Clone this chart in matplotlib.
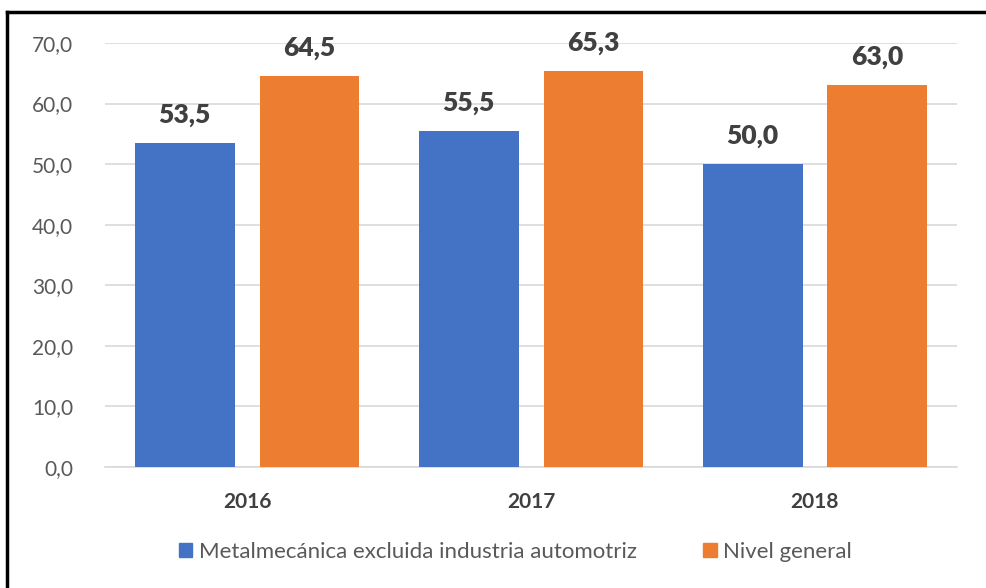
import numpy as np
import matplotlib
matplotlib.use('Agg')
import matplotlib.pyplot as plt
from matplotlib.lines import Line2D
from matplotlib.patches import Patch

# Values
years = ['2016', '2017', '2018']
metalmecanica = [53.5, 55.5, 50.0]
nivel_general = [64.5, 65.3, 63.0]
series_names = ['Metalmecánica excluida industria automotriz', 'Nivel general']
yticks = [0, 10, 20, 30, 40, 50, 60, 70]

plt.rcParams['font.family'] = ['Lato', 'DejaVu Sans']

blue = '#4472C4'
orange = '#ED7D31'

fig = plt.figure(figsize=(9.87, 5.88), dpi=100)
ax = fig.add_axes([0.1064, 0.2058, 0.8632, 0.7211])

x = np.arange(len(years))
width = 0.352
b1 = ax.bar(x - 0.22, metalmecanica, width, color=blue, zorder=3)
b2 = ax.bar(x + 0.22, nivel_general, width, color=orange, zorder=3)

# Value labels above the bars
for bars in (b1, b2):
    for bar in bars:
        h = bar.get_height()
        ax.annotate(f'{h:.1f}'.replace('.', ','),
                    (bar.get_x() + bar.get_width() / 2, h),
                    xytext=(0, 28), textcoords='offset pixels',
                    ha='center', va='center', fontsize=19, fontweight='heavy',
                    color='#404040')

ax.set_xlim(-0.5, 2.5)
ax.set_ylim(0, 70)
ax.set_yticks(yticks)
ax.set_yticklabels([f'{v:.1f}'.replace('.', ',') for v in yticks],
                   fontsize=15, color='#595959')
ax.set_xticks(x)
ax.set_xticklabels(years, fontsize=15, fontweight='bold', color='#404040')
ax.tick_params(axis='both', length=0)
ax.tick_params(axis='x', pad=18)
ax.tick_params(axis='y', pad=23)

ax.grid(axis='y', color='#d9d9d9', linewidth=1.2, zorder=0)
for side in ['top', 'right', 'left']:
    ax.spines[side].set_visible(False)
ax.spines['bottom'].set_color('#d9d9d9')
ax.spines['bottom'].set_linewidth(1.2)

handles = [Patch(color=blue), Patch(color=orange)]
fig.legend(handles, series_names, loc='center', bbox_to_anchor=(0.522, 0.061),
           ncol=2, frameon=False, fontsize=16, handlelength=0.6, handleheight=0.6,
           handletextpad=0.3, columnspacing=3.0, labelcolor='#595959')

# Outer frame (left and top edges visible in the reference)
fig.add_artist(Line2D([7 / 987, 7 / 987], [0, 1 - 12 / 588], color='black',
                      linewidth=2.5, transform=fig.transFigure))
fig.add_artist(Line2D([7 / 987, 985 / 987], [1 - 12 / 588, 1 - 12 / 588], color='black',
                      linewidth=2.5, transform=fig.transFigure))

fig.savefig('out.png', dpi=100)
